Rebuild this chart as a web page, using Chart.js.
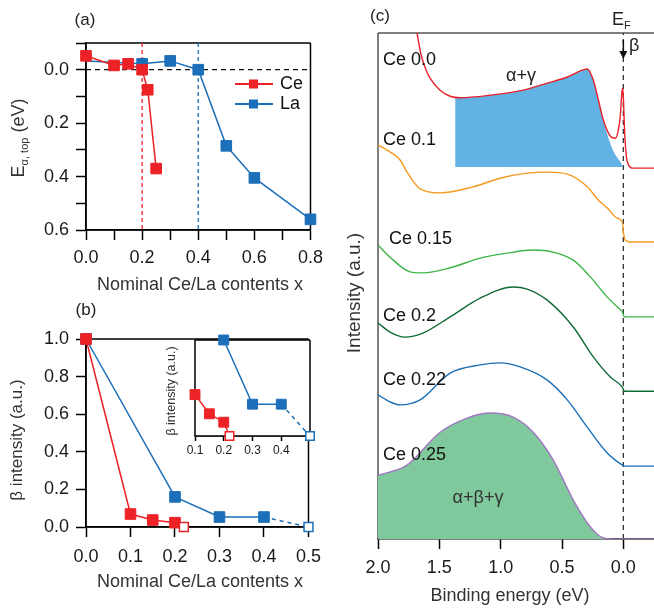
<!DOCTYPE html>
<html>
<head>
<meta charset="utf-8">
<script src="https://cdn.jsdelivr.net/npm/chart.js@4.4.0/dist/chart.umd.min.js"></script>
<style>
  html, body { margin: 0; padding: 0; background: #fff; }
  body { width: 654px; height: 612px; position: relative; overflow: hidden; }
  .panel { position: absolute; }
</style>
</head>
<body>
<div class="panel" style="left:0;top:0;width:330px;height:300px"><canvas id="chartA"></canvas></div>
<div class="panel" style="left:0;top:300px;width:330px;height:312px"><canvas id="chartB"></canvas></div>
<div class="panel" style="left:160px;top:320px;width:170px;height:150px"><canvas id="chartInset"></canvas></div>
<div class="panel" style="left:340px;top:0;width:314px;height:612px"><canvas id="chartC"></canvas></div>
<script>
const FONT = '"Liberation Sans", Arial, Helvetica, sans-serif';
const RED = '#ec2227';
const BLUE = '#1c6fb9';

// (a) top of the alpha band vs nominal content
const ceX_a = [0, 0.1, 0.15, 0.2, 0.22, 0.25];
const ceE_a = [-0.052, -0.016, -0.022, 0.0, 0.075, 0.37];
const laX_a = [0, 0.2, 0.3, 0.4, 0.5, 0.6, 0.8];
const laE_a = [-0.033, -0.022, -0.033, 0.0, 0.285, 0.405, 0.56];
const laHidden_a = [true, false, false, false, false, false, false];
const critCe = 0.2;
const critLa = 0.4;
const xTicks_a = [0, 0.1, 0.2, 0.3, 0.4, 0.5, 0.6, 0.7, 0.8];
const yTicks_a = [-0.1, 0, 0.1, 0.2, 0.3, 0.4, 0.5, 0.6];

// (b) beta intensity vs nominal content
const ceX_b = [0, 0.1, 0.15, 0.2, 0.22];
const ceI_b = [1.0, 0.069, 0.037, 0.023, 0.0];
const ceOpen_b = [false, false, false, false, true];
const laX_b = [0, 0.2, 0.3, 0.4, 0.5];
const laI_b = [1.0, 0.16, 0.053, 0.053, 0.0];
const laOpen_b = [false, false, false, false, true];
const xTicks_b = [0, 0.1, 0.2, 0.3, 0.4, 0.5];
const yTicks_b = [0, 0.2, 0.4, 0.6, 0.8, 1.0];
const xTicks_in = [0.1, 0.2, 0.3, 0.4];

// (c) spectra: binding energy (eV) and intensity (a.u.)
const ce00E = [1.682, 1.649, 1.608, 1.576, 1.494, 1.412, 1.331, 1.086, 0.816, 0.620, 0.457, 0.351, 0.294, 0.245, 0.204, 0.163, 0.106, 0.065, 0.041, 0.024, 0.012, 0.004, -0.004, -0.012, -0.033, -0.082, -0.253];
const ce00I = [10.0, 9.57, 9.27, 9.11, 8.87, 8.75, 8.72, 8.77, 8.87, 9.01, 9.13, 9.25, 9.29, 9.07, 8.68, 8.28, 7.96, 7.92, 8.08, 8.38, 8.83, 8.91, 8.48, 7.98, 7.45, 7.33, 7.33];
const agE = [1.371, 1.331, 1.086, 0.816, 0.620, 0.457, 0.351, 0.294, 0.245, 0.204, 0.163, 0.131, 0.082, 0.024, 0.0];
const agI = [8.74, 8.72, 8.77, 8.87, 9.01, 9.13, 9.25, 9.29, 9.07, 8.68, 8.28, 8.00, 7.67, 7.45, 7.35];
const agBase = 7.35;
const ce10E = [2.0, 1.902, 1.820, 1.763, 1.657, 1.494, 1.224, 1.004, 0.784, 0.620, 0.457, 0.294, 0.204, 0.131, 0.049, 0.008, 0.0, -0.016, -0.057, -0.253];
const ce10I = [7.79, 7.65, 7.49, 7.25, 6.92, 6.84, 6.96, 7.13, 7.23, 7.25, 7.21, 6.96, 6.70, 6.54, 6.34, 6.26, 6.07, 5.91, 5.87, 5.87];
const ce15E = [2.0, 1.902, 1.739, 1.633, 1.412, 1.167, 0.947, 0.735, 0.571, 0.408, 0.269, 0.131, 0.024, 0.008, -0.008, -0.057, -0.253];
const ce15I = [5.81, 5.57, 5.28, 5.26, 5.36, 5.55, 5.65, 5.71, 5.67, 5.51, 5.18, 4.78, 4.53, 4.49, 4.39, 4.39, 4.39];
const ce20E = [2.0, 1.902, 1.780, 1.633, 1.412, 1.167, 0.898, 0.784, 0.620, 0.408, 0.245, 0.106, 0.008, -0.008, -0.253];
const ce20I = [4.27, 4.09, 3.99, 4.07, 4.39, 4.76, 4.98, 4.94, 4.72, 4.19, 3.60, 3.20, 3.00, 2.92, 2.92];
const ce22E = [2.0, 1.902, 1.820, 1.657, 1.412, 1.167, 1.004, 0.841, 0.620, 0.457, 0.294, 0.131, 0.008, -0.008, -0.253];
const ce22I = [2.85, 2.71, 2.65, 2.75, 3.28, 3.44, 3.48, 3.40, 3.14, 2.75, 2.21, 1.70, 1.46, 1.44, 1.44];
const ce25E = [2.0, 1.763, 1.494, 1.273, 1.086, 0.898, 0.735, 0.571, 0.408, 0.269, 0.163, 0.090, -0.253];
const ce25I = [1.26, 1.46, 2.11, 2.39, 2.49, 2.41, 2.11, 1.56, 0.77, 0.24, 0.02, 0.0, 0.0];
const xTicks_c = [0, 0.5, 1.0, 1.5, 2.0];

function pts(xs, ys) {
    return xs.map((x, i) => ({ x, y: ys[i] }));
}

function fmt(v) {
    return (Math.round(v * 10) / 10).toFixed(1);
}

function axis(cfg) {
    return {
        type: 'linear',
        position: cfg.position,
        display: cfg.display !== false,
        min: cfg.min,
        max: cfg.max,
        reverse: !!cfg.reverse,
        afterBuildTicks: s => { s.ticks = (cfg.ticks || []).map(v => ({ value: v })); },
        afterFit: s => {
            if (cfg.position === 'left') s.width = cfg.size;
            else s.height = cfg.size;
        },
        grid: { drawOnChartArea: false, tickLength: cfg.tickLength || 10, tickWidth: 1.5, tickColor: '#000' },
        border: { display: true, color: '#000', width: 1.5 },
        ticks: {
            autoSkip: false,
            maxRotation: 0,
            padding: cfg.pad,
            color: '#1a1a1a',
            font: { family: FONT, size: cfg.fontSize || 18 },
            callback: cfg.label || (v => fmt(v))
        }
    };
}

function baseOptions(padding, scales) {
    return {
        responsive: true,
        maintainAspectRatio: false,
        animation: false,
        events: [],
        layout: { padding },
        scales,
        plugins: { legend: { display: false }, tooltip: { enabled: false } }
    };
}

function drawParts(ctx, parts, x, y, opts) {
    ctx.save();
    ctx.translate(x, y);
    if (opts.rotate) ctx.rotate(-Math.PI / 2);
    let total = 0;
    parts.forEach(p => {
        ctx.font = `${p.size}px ${FONT}`;
        p.w = ctx.measureText(p.text).width;
        total += p.w;
    });
    let cx = opts.align === 'left' ? 0 : -total / 2;
    ctx.fillStyle = opts.color || '#222';
    ctx.textBaseline = 'alphabetic';
    ctx.textAlign = 'left';
    parts.forEach(p => {
        ctx.font = `${p.size}px ${FONT}`;
        ctx.fillText(p.text, cx, p.dy || 0);
        cx += p.w;
    });
    ctx.restore();
}

function drawText(ctx, t) {
    ctx.save();
    ctx.font = `${t.size || 18}px ${FONT}`;
    ctx.fillStyle = t.color || '#222';
    ctx.textAlign = t.align || 'center';
    ctx.textBaseline = 'middle';
    ctx.translate(t.x, t.y);
    if (t.rotate) ctx.rotate(-Math.PI / 2);
    ctx.fillText(t.text, 0, 0);
    ctx.restore();
}

function frame(sides, color, whiteFill) {
    return {
        id: 'frame',
        beforeDatasetsDraw(chart) {
            const { ctx, chartArea: a } = chart;
            ctx.save();
            if (whiteFill) {
                ctx.fillStyle = '#fff';
                ctx.fillRect(a.left, a.top, a.right - a.left, a.bottom - a.top);
            }
            ctx.strokeStyle = color;
            ctx.lineWidth = 1.5;
            ctx.beginPath();
            if (sides.includes('t')) { ctx.moveTo(a.left, a.top); ctx.lineTo(a.right, a.top); }
            if (sides.includes('r')) { ctx.moveTo(a.right, a.top); ctx.lineTo(a.right, a.bottom); }
            if (sides.includes('b')) { ctx.moveTo(a.left, a.bottom); ctx.lineTo(a.right, a.bottom); }
            if (sides.includes('l')) { ctx.moveTo(a.left, a.top); ctx.lineTo(a.left, a.bottom); }
            ctx.stroke();
            ctx.restore();
        }
    };
}

function notes(items, extra) {
    return {
        id: 'notes',
        afterDraw(chart) {
            items.forEach(t => drawText(chart.ctx, t));
            if (extra) extra(chart);
        }
    };
}

function guide(data, color, dash) {
    return {
        data, borderColor: color, borderWidth: 1.3, borderDash: dash,
        pointRadius: 0, order: 5, clip: false
    };
}

function markerSeries(xs, ys, color, open, hidden) {
    return {
        data: pts(xs, ys),
        borderColor: color,
        borderWidth: 1.5,
        pointStyle: 'rect',
        pointRadius: xs.map((x, i) => hidden && hidden[i] ? 0 : (open && open[i] ? 6.3 : 7.5)),
        pointBackgroundColor: xs.map((x, i) => open && open[i] ? '#fff' : color),
        pointBorderColor: color,
        pointBorderWidth: xs.map((x, i) => open && open[i] ? 1.5 : 1),
        segment: { borderDash: ctx => (open && open[ctx.p1DataIndex] && color === BLUE) ? [4, 4] : undefined },
        clip: false,
        order: 0
    };
}

// ---------- (a) ----------
new Chart(document.getElementById('chartA'), {
    type: 'line',
    data: {
        datasets: [
            markerSeries(ceX_a, ceE_a, RED),
            markerSeries(laX_a, laE_a, BLUE, null, laHidden_a),
            guide([{ x: 0, y: 0 }, { x: 0.8, y: 0 }], '#111', [5, 4]),
            guide([{ x: critCe, y: -0.1 }, { x: critCe, y: 0.6 }], RED, [4, 3]),
            guide([{ x: critLa, y: -0.1 }, { x: critLa, y: 0.6 }], BLUE, [4, 3])
        ]
    },
    options: baseOptions({ left: 31, right: 19, top: 43, bottom: 30 }, {
        x: axis({ position: 'bottom', min: 0, max: 0.8, ticks: xTicks_a, size: 40, pad: 7,
            label: v => Math.round(v * 10) % 2 === 0 ? fmt(v) : '' }),
        y: axis({ position: 'left', min: -0.1, max: 0.6, reverse: true, ticks: yTicks_a, size: 55, pad: 7,
            label: v => (v > -0.05 && Math.round(v * 10) % 2 === 0) ? fmt(v) : '' })
    }),
    plugins: [
        frame('trbl', '#000'),
        notes([
            { text: '(a)', x: 85, y: 20, size: 17 },
            { text: 'Nominal Ce/La contents x', x: 200, y: 285, size: 18, color: '#333' }
        ], chart => {
            const ctx = chart.ctx;
            drawParts(ctx, [
                { text: 'E', size: 18 },
                { text: 'α, top', size: 11, dy: 4 },
                { text: ' (eV)', size: 18 }
            ], 24, 138, { rotate: true, color: '#333' });
            // legend
            const items = [{ label: 'Ce', ds: chart.data.datasets[0], y: 84 }, { label: 'La', ds: chart.data.datasets[1], y: 104 }];
            items.forEach(it => {
                ctx.save();
                ctx.strokeStyle = it.ds.borderColor;
                ctx.lineWidth = 2;
                ctx.beginPath();
                ctx.moveTo(235, it.y);
                ctx.lineTo(273, it.y);
                ctx.stroke();
                ctx.fillStyle = it.ds.borderColor;
                ctx.fillRect(249, it.y - 4.5, 9, 9);
                ctx.restore();
                drawText(ctx, { text: it.label, x: 280, y: it.y, size: 18, align: 'left', color: '#111' });
            });
        })
    ]
});

// ---------- (b) ----------
new Chart(document.getElementById('chartB'), {
    type: 'line',
    data: {
        datasets: [
            markerSeries(ceX_b, ceI_b, RED, ceOpen_b),
            markerSeries(laX_b, laI_b, BLUE, laOpen_b)
        ]
    },
    options: baseOptions({ left: 31, right: 20, top: 39, bottom: 45 }, {
        x: axis({ position: 'bottom', min: 0, max: 0.5, ticks: xTicks_b, size: 40, pad: 9 }),
        y: axis({ position: 'left', min: 0, max: 1.0, ticks: yTicks_b, size: 55, pad: 7 })
    }),
    plugins: [
        frame('trbl', '#000'),
        notes([
            { text: '(b)', x: 86, y: 10, size: 17 },
            { text: 'Nominal Ce/La contents x', x: 200, y: 282, size: 18, color: '#333' },
            { text: 'β intensity (a.u.)', x: 17, y: 140, size: 17, color: '#333', rotate: true }
        ])
    ]
});

// ---------- (b) inset ----------
const inCe = ceX_b.map((x, i) => i).filter(i => ceX_b[i] >= 0.1);
const inLa = laX_b.map((x, i) => i).filter(i => laX_b[i] >= 0.2);
new Chart(document.getElementById('chartInset'), {
    type: 'line',
    data: {
        datasets: [
            Object.assign(markerSeries(inCe.map(i => ceX_b[i]), inCe.map(i => ceI_b[i]), RED, inCe.map(i => ceOpen_b[i])), { pointRadius: inCe.map(i => ceOpen_b[i] ? 6 : 7) }),
            Object.assign(markerSeries(inLa.map(i => laX_b[i]), inLa.map(i => laI_b[i]), BLUE, inLa.map(i => laOpen_b[i])), { pointRadius: inLa.map(i => laOpen_b[i] ? 6 : 7) })
        ]
    },
    options: baseOptions({ left: 35, right: 20, top: 20, bottom: 4 }, {
        x: axis({ position: 'bottom', min: 0.1, max: 0.5, ticks: xTicks_in, size: 30, pad: 2, fontSize: 12, tickLength: 5 }),
        y: { display: false, min: 0, max: 0.16 }
    }),
    plugins: [
        frame('trbl', '#000', true),
        notes([
            { text: 'β intensity (a.u.)', x: 12, y: 71, size: 12.5, color: '#333', rotate: true }
        ])
    ]
});

// ---------- (c) ----------
function spectrum(es, is, color, extra) {
    return Object.assign({
        data: pts(es, is),
        borderColor: color,
        borderWidth: 1.4,
        pointRadius: 0,
        cubicInterpolationMode: 'monotone',
        fill: false,
        order: 0
    }, extra || {});
}

new Chart(document.getElementById('chartC'), {
    type: 'line',
    data: {
        datasets: [
            spectrum(ce00E, ce00I, '#e8212a'),
            spectrum(agE, agI, 'rgba(0,0,0,0)', { borderWidth: 0, fill: { value: agBase }, backgroundColor: '#62b3e4', order: 2 }),
            spectrum(ce10E, ce10I, '#f49a1f'),
            spectrum(ce15E, ce15I, '#3fb549'),
            spectrum(ce20E, ce20I, '#0f6b35'),
            spectrum(ce22E, ce22I, '#1a6fb6'),
            spectrum(ce25E, ce25I, '#a477c4', { fill: { value: 0 }, backgroundColor: '#80c99d', order: 1 }),
            guide([{ x: 0, y: 0 }, { x: 0, y: 10 }], '#333', [5, 4])
        ]
    },
    options: baseOptions({ left: 38, right: 0, top: 33, bottom: 33 }, {
        x: axis({ position: 'bottom', min: -0.25, max: 2.0, reverse: true, ticks: xTicks_c, size: 40, pad: 8 }),
        y: { display: false, min: 0, max: 10 }
    }),
    plugins: [
        frame('tl', '#555'),
        notes([
            { text: '(c)', x: 40, y: 16, size: 17 },
            { text: 'Binding energy (eV)', x: 170, y: 596, size: 18, color: '#333' },
            { text: 'Intensity (a.u.)', x: 15, y: 293, size: 19, color: '#333', rotate: true },
            { text: 'Ce 0.0', x: 43, y: 60, size: 18, align: 'left', color: '#111' },
            { text: 'Ce 0.1', x: 43, y: 140, size: 18, align: 'left', color: '#111' },
            { text: 'Ce 0.15', x: 49, y: 239, size: 18, align: 'left', color: '#111' },
            { text: 'Ce 0.2', x: 43, y: 316, size: 18, align: 'left', color: '#111' },
            { text: 'Ce 0.22', x: 43, y: 380, size: 18, align: 'left', color: '#111' },
            { text: 'Ce 0.25', x: 43, y: 455, size: 18, align: 'left', color: '#111' },
            { text: 'α+γ', x: 181, y: 76, size: 18, color: '#222' },
            { text: 'α+β+γ', x: 138, y: 498, size: 18, color: '#333' },
            { text: 'β', x: 289, y: 46, size: 18, align: 'left', color: '#222' }
        ], chart => {
            const ctx = chart.ctx;
            drawParts(ctx, [
                { text: 'E', size: 18 },
                { text: 'F', size: 11, dy: 4 }
            ], 272, 25, { align: 'left', color: '#222' });
            // arrow pointing at the beta peak
            const x = chart.scales.x.getPixelForValue(0);
            ctx.save();
            ctx.strokeStyle = '#111';
            ctx.fillStyle = '#111';
            ctx.lineWidth = 1.5;
            ctx.beginPath();
            ctx.moveTo(x, 40);
            ctx.lineTo(x, 52);
            ctx.stroke();
            ctx.beginPath();
            ctx.moveTo(x - 4, 51);
            ctx.lineTo(x + 4, 51);
            ctx.lineTo(x, 59);
            ctx.closePath();
            ctx.fill();
            ctx.restore();
        })
    ]
});
</script>
</body>
</html>
